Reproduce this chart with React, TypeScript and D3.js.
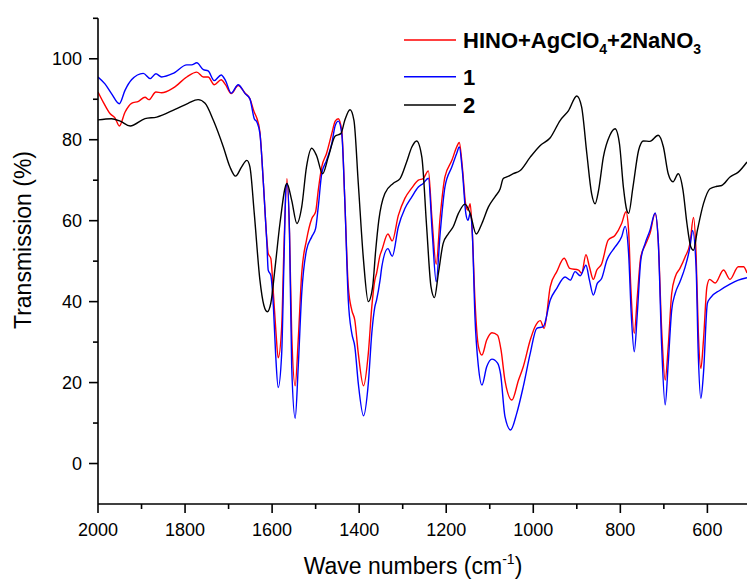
import React from "react";
import * as d3 from "d3";

// ---- data (wavenumber cm^-1, transmission %) ----
const redWn = [2000,1988,1972,1961,1951,1938,1923,1907,1892,1883,1867,1854,1827,1796,1773,1758,1747,1733,1717,1707,1694,1678,1662,1651,1641,1635,1628,1620,1612,1609,1603,1597,1591,1586,1578,1573,1566,1560,1555,1547,1540,1532,1521,1509,1500,1494,1486,1475,1463,1455,1448,1440,1433,1425,1417,1410,1402,1390,1379,1371,1364,1360,1352,1348,1334,1324,1310,1295,1279,1264,1253,1241,1233,1223,1214,1203,1187,1176,1170,1163,1155,1150,1145,1140,1134,1126,1118,1107,1095,1082,1074,1065,1049,1034,1023,1007,996,984,975,961,946,929,916,896,889,879,871,862,854,843,828,812,797,787,781,776,768,761,753,743,732,720,713,705,697,690,682,674,663,651,640,632,626,621,615,609,601,595,582,563,548,529,517,509];
const redT = [91.8,89.3,86.4,85.4,83.4,86.8,89.0,89.5,90.5,89.9,91.8,91.6,92.8,95.5,96.7,95.5,95.5,93.6,94.8,93.6,91.4,93.4,91.5,90.1,86.8,85.3,81.9,69.2,55.2,51.9,50.7,42.0,32.2,26.1,33.8,52.7,70.4,56.8,32.2,19.2,30.5,47.0,55.2,60.5,62.2,67.5,73.3,76.6,81.5,84.6,85.2,82.3,65.0,43.7,37.9,35.4,27.2,19.2,27.2,38.7,45.3,47.0,51.5,52.7,56.7,55.0,61.3,65.5,68.1,70.0,70.4,72.3,60.9,49.2,60.9,70.8,74.9,78.2,79.3,73.3,63.8,62.6,64.2,56.8,40.4,28.9,26.8,30.5,32.3,31.7,28.0,20.5,15.7,20.6,23.9,30.5,33.8,35.3,33.4,43.7,47.4,50.7,48.2,47.8,47.0,51.6,48.6,45.5,47.8,49.3,55.2,56.4,59.3,62.2,57.6,43.7,32.2,41.2,51.1,53.9,56.8,61.8,55.2,33.0,20.6,28.9,42.0,46.1,48.2,51.1,54.4,60.8,51.9,33.0,23.5,30.5,43.7,45.5,44.6,47.8,45.5,48.6,48.6,47.1];

const blueWn = [2000,1984,1969,1951,1938,1923,1896,1880,1867,1854,1827,1796,1785,1773,1758,1747,1733,1717,1707,1694,1678,1662,1651,1641,1635,1628,1620,1612,1609,1603,1597,1592,1586,1578,1573,1568,1565,1560,1555,1547,1540,1532,1521,1509,1500,1494,1486,1475,1463,1455,1448,1440,1433,1425,1417,1410,1402,1390,1379,1371,1364,1360,1352,1348,1334,1324,1310,1295,1279,1264,1253,1241,1232,1223,1214,1203,1187,1176,1170,1163,1155,1150,1145,1140,1134,1126,1118,1107,1095,1082,1075,1065,1052,1038,1023,1007,992,977,961,946,927,915,904,892,879,871,862,853,843,831,812,797,789,781,775,768,761,753,743,732,720,713,705,697,690,682,674,663,651,640,634,626,621,615,609,600,594,571,548,529,509];
const blueT = [95.5,93.8,91.4,88.9,92.2,94.8,96.4,95.1,96.3,95.5,96.4,98.5,98.5,99.0,97.3,97.0,94.6,96.0,94.6,91.5,93.6,91.4,90.1,85.2,84.4,81.5,69.2,54.4,47.8,46.5,38.7,27.2,18.8,27.2,48.6,68.3,69.2,56.8,23.9,11.2,23.9,42.0,52.7,56.0,58.1,63.4,71.6,74.9,79.0,83.5,84.6,81.5,65.0,40.4,32.2,28.9,19.8,11.8,19.8,32.2,38.7,40.4,45.3,48.6,53.1,51.2,58.5,63.0,65.9,68.3,69.2,70.5,56.8,44.9,56.8,68.3,73.3,76.6,78.2,72.4,61.8,60.1,61.8,56.8,36.3,23.9,19.4,23.9,25.8,24.8,22.0,11.6,8.3,12.4,19.0,27.2,33.4,33.8,40.4,43.3,46.1,45.3,47.4,46.4,49.0,45.3,41.6,44.5,45.7,50.2,53.5,56.0,58.6,51.9,37.1,27.6,37.1,50.2,54.4,57.6,61.9,55.2,28.9,14.5,24.8,37.9,42.0,44.9,48.6,53.5,57.6,48.6,27.2,16.1,22.3,39.6,40.8,42.8,44.3,45.3,45.9];

const blackWn = [2000,1969,1949,1926,1892,1865,1823,1793,1770,1754,1735,1712,1697,1684,1670,1658,1651,1641,1628,1619,1611,1603,1593,1582,1566,1555,1543,1532,1521,1509,1498,1484,1471,1455,1442,1433,1421,1412,1402,1390,1379,1369,1362,1355,1341,1322,1306,1291,1279,1268,1256,1245,1235,1227,1218,1207,1195,1184,1172,1157,1145,1131,1118,1103,1088,1076,1069,1061,1046,1030,1007,984,961,938,919,900,889,877,866,858,850,839,824,812,802,793,785,781,771,758,747,732,713,701,690,679,667,656,647,638,632,623,609,594,578,567,548,529,509];
const blackT = [84.9,85.2,84.6,83.4,85.2,85.6,87.5,89.0,89.9,89.0,84.8,78.2,73.3,71.0,73.3,74.9,73.3,61.8,45.3,39.1,37.5,39.6,48.6,59.3,69.2,65.0,59.3,63.4,73.3,77.9,76.1,71.6,75.7,80.9,81.5,84.8,87.4,84.8,69.2,50.2,40.0,43.7,52.7,60.0,66.7,69.2,70.4,74.5,78.2,79.7,75.7,58.5,43.7,41.0,47.0,54.4,56.8,58.5,61.8,64.1,61.8,56.7,59.3,63.4,65.9,67.9,70.4,70.8,71.6,72.4,75.7,78.6,80.5,84.8,87.2,90.8,88.1,76.6,66.7,64.2,67.5,75.7,81.1,82.7,79.0,68.3,62.5,61.8,68.3,77.4,79.7,79.6,81.1,78.2,71.6,69.6,71.6,67.5,59.3,53.5,52.7,57.6,64.2,67.9,68.5,68.7,70.8,72.0,74.5];

const xMajorTicks = [2000, 1800, 1600, 1400, 1200, 1000, 800, 600];
const xMinorTicks = [1900, 1700, 1500, 1300, 1100, 900, 700];
const yMajorTicks = [0, 20, 40, 60, 80, 100];
const yMinorTicks = [10, 30, 50, 70, 90, 110];

const seriesNames = ["HINO+AgClO4+2NaNO3", "1", "2"];
const seriesColors = ["#ff0000", "#0000ff", "#000000"];

const W = 747, H = 580;
const L = 98, R = 747, T = 18.3, B = 504;

export default function App() {
  const x = d3.scaleLinear().domain([2000, 509]).range([L, R]);
  const y = d3.scaleLinear().domain([-10, 110]).range([B, T]);
  const line = d3
    .line<[number, number]>()
    .x((d) => x(d[0]))
    .y((d) => y(d[1]))
    .curve(d3.curveMonotoneX);

  const series = [
    { wn: redWn, t: redT },
    { wn: blueWn, t: blueT },
    { wn: blackWn, t: blackT },
  ].map((s, i) => ({
    name: seriesNames[i],
    color: seriesColors[i],
    d: line(s.wn.map((w, k) => [w, s.t[k]] as [number, number])) || "",
  }));

  const font = "Arial, 'Liberation Sans', sans-serif";
  const legendX1 = 404, legendX2 = 456, legendTextX = 463;
  const legendY = [40, 76.7, 105];

  return (
    <svg
      width={W}
      height={H}
      style={{ position: "absolute", left: 0, top: 0, background: "#fff" }}
      fontFamily={font}
    >
      <rect x={0} y={0} width={W} height={H} fill="#fff" />
      <defs>
        <clipPath id="plotClip">
          <rect x={L} y={T} width={R - L} height={B - T} />
        </clipPath>
      </defs>

      <g clipPath="url(#plotClip)" fill="none" strokeWidth={1.4} strokeLinejoin="round">
        {series.map((s) => (
          <path key={s.name} d={s.d} stroke={s.color} />
        ))}
      </g>

      {/* axes */}
      <g stroke="#000" strokeWidth={1.6}>
        <line x1={L} x2={L} y1={T} y2={B} />
        <line x1={L} x2={R} y1={B} y2={B} />
        {xMajorTicks.map((v) => (
          <line key={"xm" + v} x1={x(v)} x2={x(v)} y1={B} y2={B + 9} />
        ))}
        {xMinorTicks.map((v) => (
          <line key={"xn" + v} x1={x(v)} x2={x(v)} y1={B} y2={B + 5} />
        ))}
        {yMajorTicks.map((v) => (
          <line key={"ym" + v} x1={L - 9} x2={L} y1={y(v)} y2={y(v)} />
        ))}
        {yMinorTicks.map((v) => (
          <line key={"yn" + v} x1={L - 5} x2={L} y1={y(v)} y2={y(v)} />
        ))}
      </g>
      <g fontSize={18} fill="#000">
        {xMajorTicks.map((v) => (
          <text key={"xl" + v} x={x(v)} y={536} textAnchor="middle">
            {v}
          </text>
        ))}
        {yMajorTicks.map((v) => (
          <text key={"yl" + v} x={82} y={y(v)} dy="0.36em" textAnchor="end">
            {v}
          </text>
        ))}
      </g>

      {/* axis titles */}
      <text x={413} y={574} fontSize={23} textAnchor="middle">
        Wave numbers (cm
        <tspan fontSize={14} dy={-10}>-1</tspan>
        <tspan dy={10}>)</tspan>
      </text>
      <text
        transform="translate(31,240) rotate(-90)"
        fontSize={23}
        textAnchor="middle"
      >
        Transmission (%)
      </text>

      {/* legend */}
      <g>
        {series.map((s, i) => (
          <line
            key={"lg" + i}
            x1={legendX1}
            x2={legendX2}
            y1={legendY[i]}
            y2={legendY[i]}
            stroke={s.color}
            strokeWidth={1.4}
          />
        ))}
        <text x={legendTextX} y={legendY[0]} dy="0.36em" fontSize={22} fontWeight="bold">
          HINO+AgClO
          <tspan fontSize={14} dy={6}>4</tspan>
          <tspan dy={-6}>+2NaNO</tspan>
          <tspan fontSize={14} dy={6}>3</tspan>
        </text>
        <text x={legendTextX} y={legendY[1]} dy="0.36em" fontSize={22} fontWeight="bold">
          {seriesNames[1]}
        </text>
        <text x={legendTextX} y={legendY[2]} dy="0.36em" fontSize={22} fontWeight="bold">
          {seriesNames[2]}
        </text>
      </g>
    </svg>
  );
}
